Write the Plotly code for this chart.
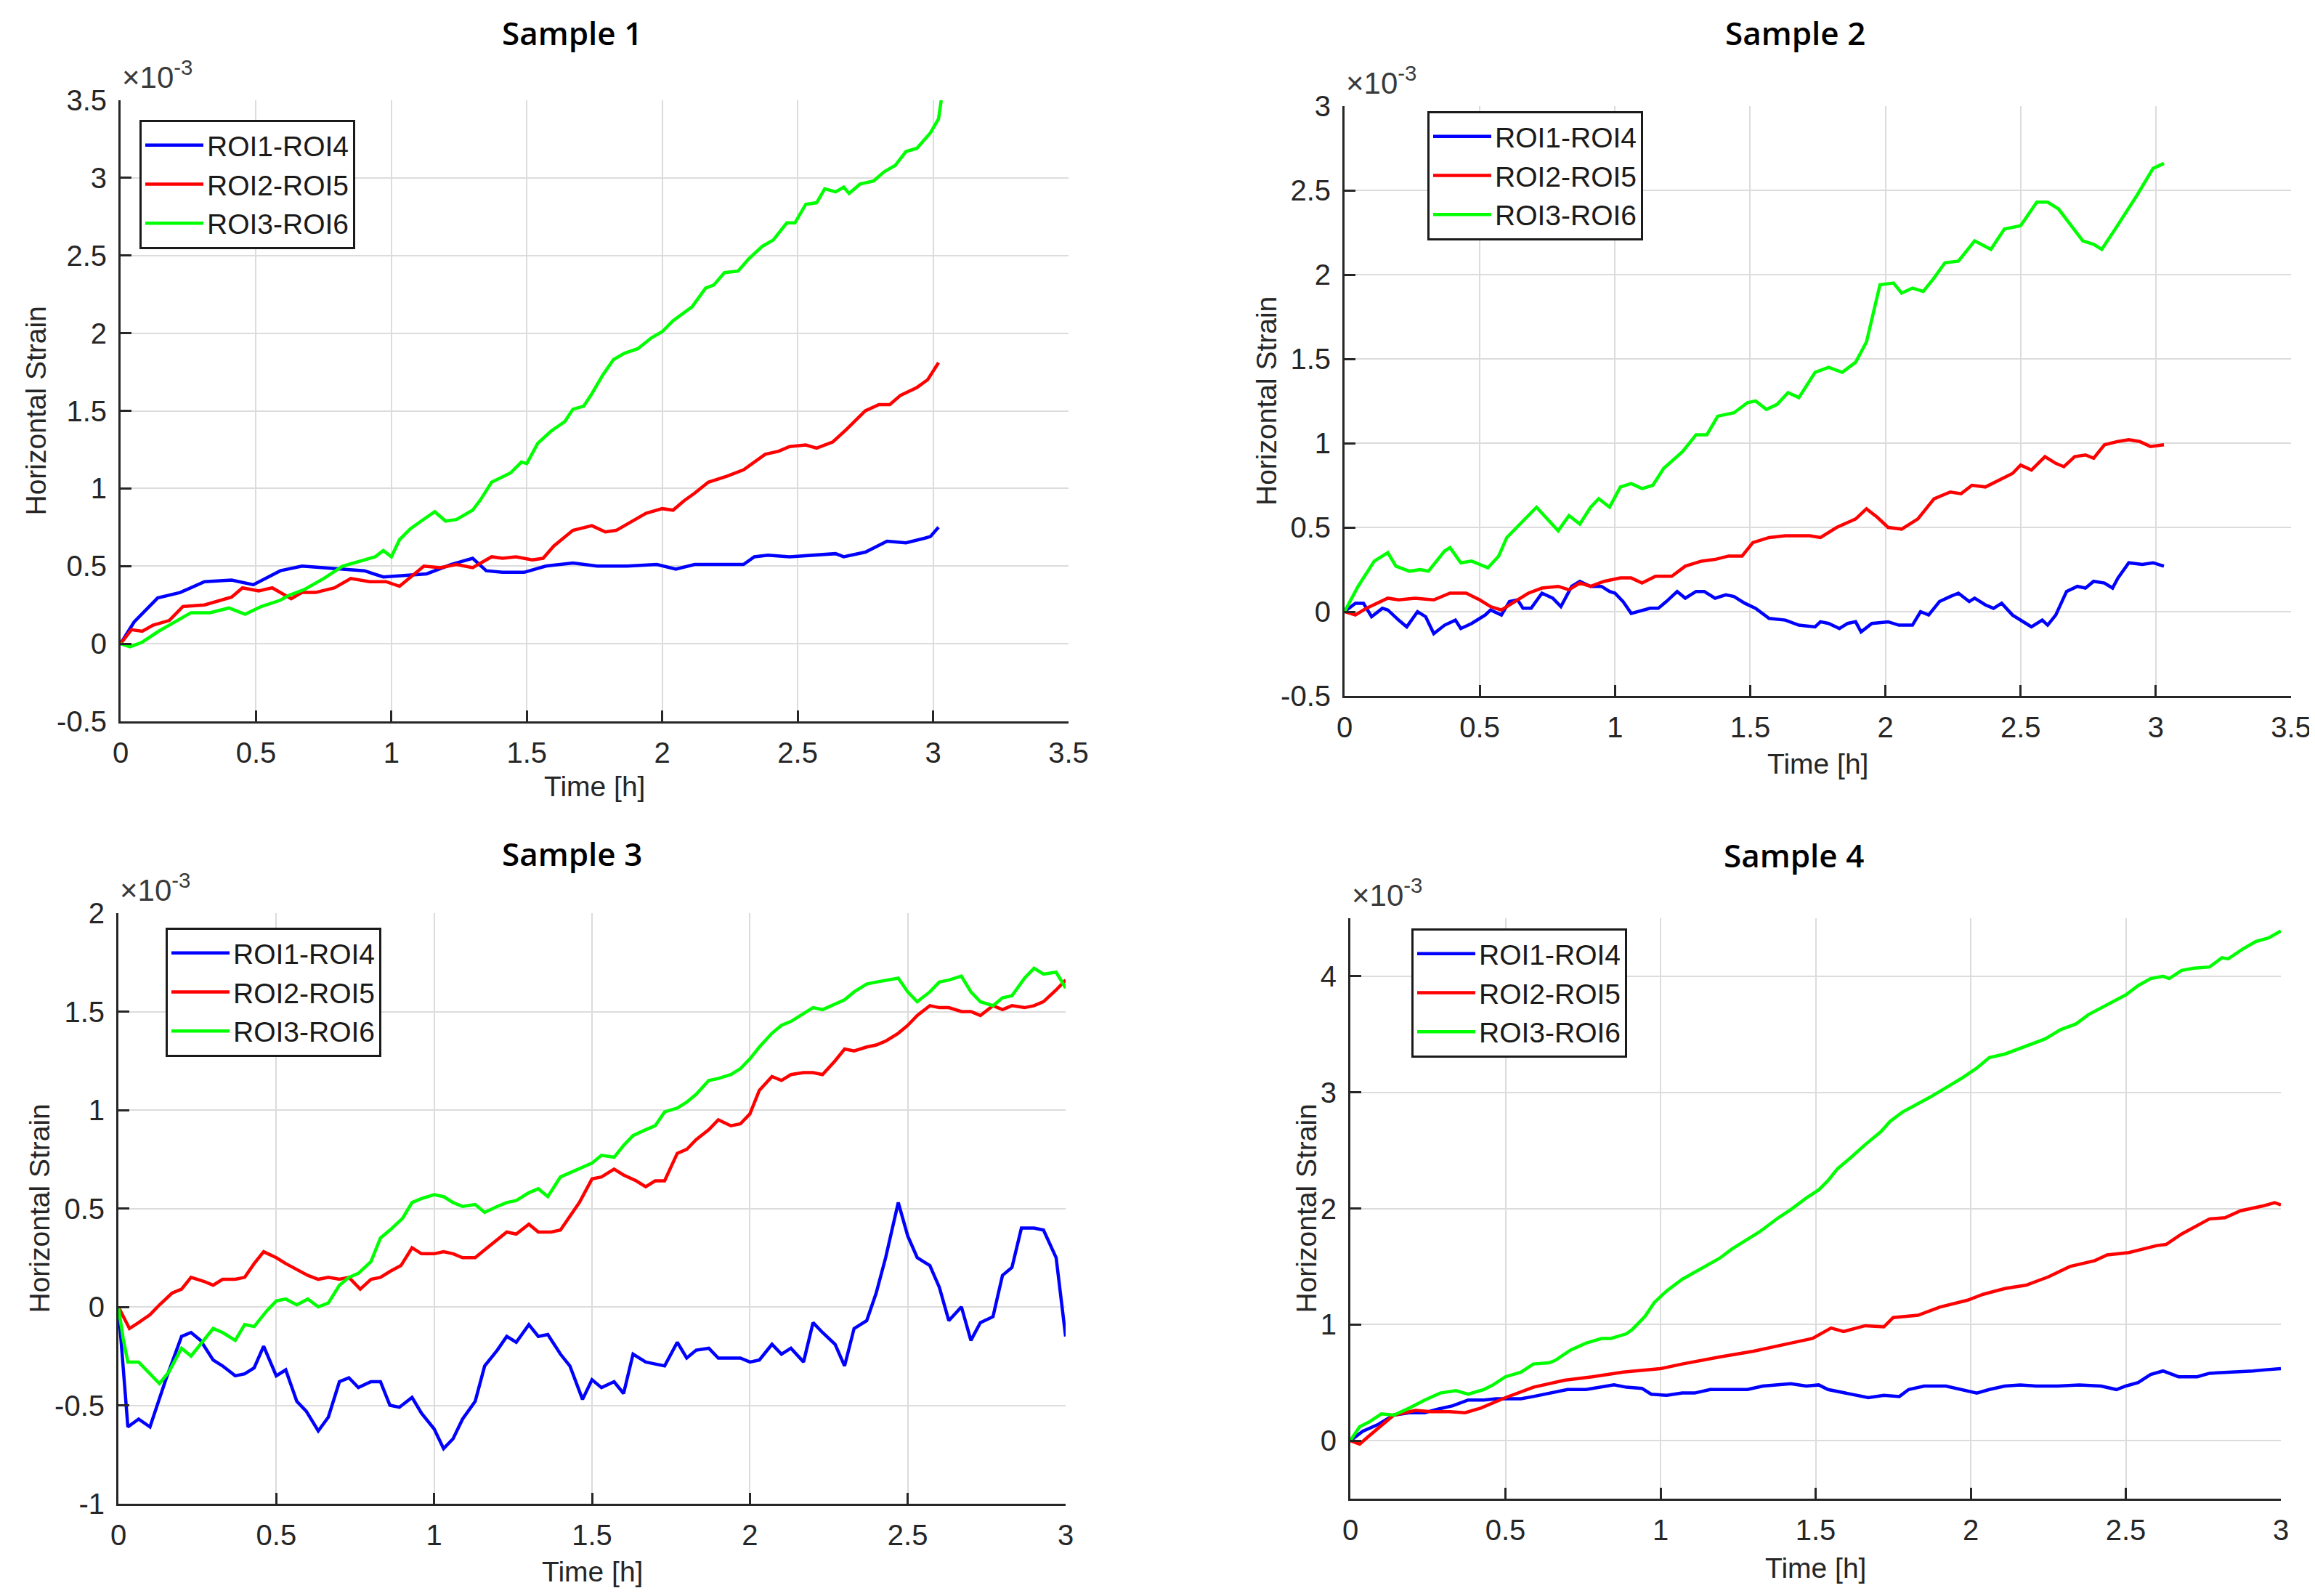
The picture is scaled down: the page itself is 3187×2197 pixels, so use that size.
import plotly.graph_objects as go

# ---------------- DATA (strain values in units of 1e-3) ----------------
series_names = ["ROI1-ROI4", "ROI2-ROI5", "ROI3-ROI6"]
sample_titles = ["Sample 1", "Sample 2", "Sample 3", "Sample 4"]

# Sample 1
s1_blue_t = [0, 0.05, 0.137, 0.22, 0.31, 0.41, 0.49, 0.59, 0.67, 0.75, 0.83, 0.90, 0.97, 1.05, 1.13, 1.22, 1.30, 1.35,
             1.41, 1.49, 1.57, 1.67, 1.76, 1.87, 1.98, 2.05, 2.12, 2.21, 2.30, 2.34, 2.39, 2.47, 2.56, 2.64, 2.67, 2.75,
             2.83, 2.90, 2.97, 2.99, 3.02]
s1_blue_v = [0, 0.14, 0.295, 0.33, 0.40, 0.41, 0.38, 0.47, 0.50, 0.49, 0.48, 0.47, 0.43, 0.44, 0.45, 0.51, 0.55, 0.47,
             0.46, 0.46, 0.50, 0.52, 0.50, 0.50, 0.51, 0.48, 0.51, 0.51, 0.51, 0.56, 0.57, 0.56, 0.57, 0.58, 0.56, 0.59,
             0.66, 0.65, 0.68, 0.69, 0.75]
s1_red_t = [0, 0.04, 0.08, 0.12, 0.18, 0.23, 0.31, 0.37, 0.41, 0.45, 0.51, 0.56, 0.63, 0.67, 0.72, 0.79, 0.85, 0.92,
            0.98, 1.03, 1.07, 1.12, 1.18, 1.24, 1.30, 1.37, 1.41, 1.46, 1.52, 1.56, 1.60, 1.67, 1.74, 1.79, 1.83, 1.89,
            1.94, 2.00, 2.04, 2.08, 2.12, 2.17, 2.24, 2.30, 2.34, 2.38, 2.43, 2.47, 2.53, 2.57, 2.63, 2.68, 2.75, 2.80,
            2.84, 2.88, 2.94, 2.98, 3.02]
s1_red_v = [0, 0.09, 0.08, 0.12, 0.15, 0.24, 0.25, 0.28, 0.30, 0.36, 0.34, 0.36, 0.29, 0.33, 0.33, 0.36, 0.42, 0.40,
            0.40, 0.37, 0.43, 0.50, 0.49, 0.51, 0.49, 0.56, 0.55, 0.56, 0.54, 0.55, 0.63, 0.73, 0.76, 0.72, 0.73, 0.79,
            0.84, 0.87, 0.86, 0.92, 0.97, 1.04, 1.08, 1.12, 1.17, 1.22, 1.24, 1.27, 1.28, 1.26, 1.30, 1.38, 1.50, 1.54,
            1.54, 1.60, 1.65, 1.70, 1.81]
s1_green_t = [0, 0.035, 0.08, 0.14, 0.19, 0.26, 0.33, 0.40, 0.46, 0.52, 0.59, 0.62, 0.68, 0.75, 0.82, 0.88, 0.94, 0.97,
              1.00, 1.03, 1.07, 1.11, 1.16, 1.20, 1.24, 1.30, 1.33, 1.37, 1.44, 1.48, 1.50, 1.54, 1.59, 1.64, 1.67, 1.71,
              1.74, 1.78, 1.82, 1.86, 1.91, 1.96, 2.00, 2.04, 2.11, 2.16, 2.19, 2.23, 2.28, 2.32, 2.37, 2.41, 2.46, 2.49,
              2.53, 2.57, 2.60, 2.64, 2.67, 2.69, 2.73, 2.78, 2.82, 2.86, 2.90, 2.94, 2.99, 3.02, 3.03]
s1_green_v = [0, -0.02, 0.01, 0.08, 0.13, 0.20, 0.20, 0.23, 0.19, 0.24, 0.28, 0.31, 0.35, 0.42, 0.50, 0.53, 0.56, 0.60,
              0.56, 0.67, 0.74, 0.79, 0.85, 0.79, 0.80, 0.86, 0.93, 1.04, 1.10, 1.17, 1.16, 1.29, 1.37, 1.43, 1.51, 1.53,
              1.61, 1.73, 1.83, 1.87, 1.90, 1.97, 2.01, 2.08, 2.17, 2.29, 2.31, 2.39, 2.40, 2.48, 2.56, 2.60, 2.71, 2.71,
              2.83, 2.84, 2.93, 2.91, 2.94, 2.90, 2.96, 2.98, 3.04, 3.08, 3.17, 3.19, 3.29, 3.38, 3.50]

# Sample 2
s2_blue_t = [0, 0.04, 0.07, 0.10, 0.14, 0.16, 0.20, 0.23, 0.27, 0.30, 0.33, 0.37, 0.41, 0.43, 0.47, 0.52, 0.54, 0.58,
             0.61, 0.64, 0.66, 0.69, 0.73, 0.77, 0.80, 0.84, 0.87, 0.91, 0.95, 0.98, 1.00, 1.03, 1.06, 1.10, 1.13, 1.16,
             1.19, 1.23, 1.26, 1.30, 1.33, 1.37, 1.41, 1.44, 1.48, 1.52, 1.57, 1.63, 1.68, 1.74, 1.76, 1.79, 1.83, 1.86,
             1.89, 1.91, 1.95, 2.01, 2.05, 2.10, 2.13, 2.16, 2.20, 2.24, 2.27, 2.31, 2.33, 2.37, 2.40, 2.43, 2.47, 2.54,
             2.58, 2.60, 2.63, 2.67, 2.71, 2.74, 2.77, 2.81, 2.84, 2.86, 2.90, 2.95, 2.99, 3.03]
s2_blue_v = [0, 0.05, 0.05, -0.03, 0.02, 0.01, -0.05, -0.09, 0.00, -0.03, -0.13, -0.08, -0.05, -0.10, -0.07, -0.02,
             0.01, -0.02, 0.06, 0.07, 0.02, 0.02, 0.11, 0.08, 0.03, 0.15, 0.18, 0.15, 0.15, 0.12, 0.11, 0.06, -0.01, 0.01,
             0.02, 0.02, 0.06, 0.12, 0.08, 0.12, 0.12, 0.08, 0.10, 0.09, 0.05, 0.02, -0.04, -0.05, -0.08, -0.09, -0.06,
             -0.07, -0.10, -0.07, -0.06, -0.12, -0.07, -0.06, -0.08, -0.08, 0.00, -0.02, 0.06, 0.09, 0.11, 0.06, 0.08,
             0.04, 0.02, 0.05, -0.02, -0.09, -0.05, -0.08, -0.02, 0.12, 0.15, 0.14, 0.18, 0.17, 0.14, 0.20, 0.29, 0.28,
             0.29, 0.27]
s2_red_t = [0, 0.04, 0.08, 0.16, 0.20, 0.26, 0.33, 0.39, 0.45, 0.50, 0.54, 0.58, 0.62, 0.68, 0.73, 0.79, 0.83, 0.87,
            0.91, 0.96, 1.02, 1.06, 1.10, 1.15, 1.21, 1.26, 1.32, 1.37, 1.42, 1.47, 1.51, 1.57, 1.63, 1.68, 1.72, 1.76,
            1.82, 1.89, 1.93, 1.97, 2.01, 2.06, 2.12, 2.18, 2.24, 2.28, 2.32, 2.37, 2.43, 2.47, 2.50, 2.54, 2.59, 2.63,
            2.66, 2.70, 2.74, 2.77, 2.81, 2.86, 2.90, 2.94, 2.98, 3.03]
s2_red_v = [0, -0.02, 0.02, 0.08, 0.07, 0.08, 0.07, 0.11, 0.11, 0.07, 0.03, 0.01, 0.05, 0.11, 0.14, 0.15, 0.13, 0.17,
            0.15, 0.18, 0.20, 0.20, 0.17, 0.21, 0.21, 0.27, 0.30, 0.31, 0.33, 0.33, 0.41, 0.44, 0.45, 0.45, 0.45, 0.44,
            0.50, 0.55, 0.61, 0.56, 0.50, 0.49, 0.55, 0.67, 0.71, 0.70, 0.75, 0.74, 0.79, 0.82, 0.87, 0.84, 0.92, 0.88,
            0.86, 0.92, 0.93, 0.91, 0.99, 1.01, 1.02, 1.01, 0.98, 0.99]
s2_green_t = [0, 0.05, 0.11, 0.16, 0.19, 0.24, 0.28, 0.31, 0.37, 0.39, 0.43, 0.47, 0.53, 0.57, 0.60, 0.65, 0.71, 0.75,
              0.79, 0.83, 0.87, 0.91, 0.94, 0.98, 1.02, 1.06, 1.10, 1.14, 1.18, 1.25, 1.30, 1.34, 1.38, 1.44, 1.49, 1.52,
              1.56, 1.60, 1.64, 1.68, 1.74, 1.79, 1.84, 1.89, 1.93, 1.98, 2.03, 2.06, 2.10, 2.14, 2.18, 2.22, 2.27, 2.33,
              2.39, 2.44, 2.50, 2.56, 2.60, 2.64, 2.73, 2.77, 2.80, 2.85, 2.93, 2.99, 3.03]
s2_green_v = [0, 0.15, 0.30, 0.35, 0.27, 0.24, 0.25, 0.24, 0.36, 0.38, 0.29, 0.30, 0.26, 0.33, 0.44, 0.52, 0.62, 0.55,
              0.48, 0.57, 0.52, 0.62, 0.67, 0.62, 0.74, 0.76, 0.73, 0.75, 0.85, 0.95, 1.05, 1.05, 1.16, 1.18, 1.24, 1.25,
              1.20, 1.23, 1.30, 1.27, 1.42, 1.45, 1.42, 1.48, 1.60, 1.94, 1.95, 1.89, 1.92, 1.90, 1.98, 2.07, 2.08, 2.20,
              2.15, 2.27, 2.29, 2.43, 2.43, 2.39, 2.20, 2.18, 2.15, 2.27, 2.47, 2.63, 2.66]

# Sample 3
s3_blue_t = [0, 0.015, 0.03, 0.064, 0.10, 0.15, 0.20, 0.23, 0.26, 0.30, 0.33, 0.37, 0.40, 0.43, 0.46, 0.50, 0.53, 0.565,
             0.595, 0.633, 0.665, 0.70, 0.73, 0.76, 0.80, 0.83, 0.86, 0.89, 0.93, 0.96, 1.00, 1.03, 1.06, 1.09, 1.13,
             1.16, 1.20, 1.23, 1.26, 1.30, 1.33, 1.36, 1.40, 1.43, 1.47, 1.50, 1.53, 1.57, 1.60, 1.63, 1.67, 1.70, 1.73,
             1.77, 1.80, 1.83, 1.87, 1.90, 1.94, 1.97, 2.00, 2.03, 2.07, 2.10, 2.13, 2.17, 2.20, 2.23, 2.27, 2.30, 2.33,
             2.37, 2.40, 2.43, 2.47, 2.50, 2.53, 2.57, 2.60, 2.63, 2.67, 2.70, 2.73, 2.77, 2.80, 2.83, 2.86, 2.90, 2.93,
             2.97, 3.00]
s3_blue_v = [0, -0.31, -0.61, -0.57, -0.61, -0.37, -0.15, -0.13, -0.17, -0.27, -0.30, -0.35, -0.34, -0.31, -0.20, -0.35,
             -0.32, -0.48, -0.53, -0.63, -0.56, -0.38, -0.36, -0.41, -0.38, -0.38, -0.50, -0.51, -0.46, -0.54, -0.62,
             -0.72, -0.67, -0.57, -0.48, -0.30, -0.22, -0.15, -0.18, -0.09, -0.15, -0.14, -0.24, -0.30, -0.47, -0.37,
             -0.41, -0.38, -0.44, -0.24, -0.28, -0.29, -0.30, -0.18, -0.26, -0.22, -0.21, -0.26, -0.26, -0.26, -0.28,
             -0.27, -0.19, -0.24, -0.21, -0.28, -0.08, -0.13, -0.19, -0.30, -0.11, -0.07, 0.07, 0.25, 0.53, 0.36, 0.25,
             0.21, 0.10, -0.07, 0.00, -0.17, -0.08, -0.05, 0.16, 0.20, 0.40, 0.40, 0.39, 0.25, -0.15]
s3_red_t = [0, 0.035, 0.064, 0.10, 0.13, 0.17, 0.20, 0.23, 0.27, 0.30, 0.33, 0.37, 0.40, 0.43, 0.46, 0.50, 0.53, 0.565,
            0.60, 0.633, 0.665, 0.70, 0.73, 0.766, 0.80, 0.83, 0.86, 0.895, 0.93, 0.96, 1.00, 1.03, 1.06, 1.09, 1.13,
            1.16, 1.20, 1.23, 1.26, 1.30, 1.33, 1.37, 1.40, 1.43, 1.46, 1.50, 1.53, 1.57, 1.60, 1.64, 1.67, 1.70, 1.73,
            1.77, 1.80, 1.83, 1.87, 1.90, 1.94, 1.97, 2.00, 2.03, 2.07, 2.10, 2.13, 2.17, 2.20, 2.23, 2.27, 2.30, 2.33,
            2.37, 2.40, 2.43, 2.47, 2.50, 2.53, 2.57, 2.60, 2.63, 2.67, 2.70, 2.73, 2.77, 2.80, 2.83, 2.87, 2.90, 2.93,
            2.97, 3.00]
s3_red_v = [0, -0.11, -0.08, -0.04, 0.01, 0.07, 0.09, 0.15, 0.13, 0.11, 0.14, 0.14, 0.15, 0.22, 0.28, 0.25, 0.22, 0.19,
            0.16, 0.14, 0.15, 0.14, 0.15, 0.09, 0.14, 0.15, 0.18, 0.21, 0.30, 0.27, 0.27, 0.28, 0.27, 0.25, 0.25, 0.29,
            0.34, 0.38, 0.37, 0.42, 0.38, 0.38, 0.39, 0.46, 0.53, 0.65, 0.66, 0.70, 0.67, 0.64, 0.61, 0.64, 0.64, 0.78,
            0.80, 0.85, 0.90, 0.95, 0.92, 0.93, 0.98, 1.10, 1.17, 1.15, 1.18, 1.19, 1.19, 1.18, 1.25, 1.31, 1.30, 1.32,
            1.33, 1.35, 1.39, 1.43, 1.48, 1.53, 1.52, 1.52, 1.50, 1.50, 1.48, 1.53, 1.51, 1.53, 1.52, 1.53, 1.55, 1.61,
            1.66]
s3_green_t = [0, 0.015, 0.03, 0.064, 0.10, 0.13, 0.16, 0.20, 0.23, 0.27, 0.30, 0.33, 0.37, 0.40, 0.43, 0.47, 0.50, 0.53,
              0.565, 0.60, 0.633, 0.665, 0.70, 0.73, 0.76, 0.80, 0.83, 0.86, 0.90, 0.93, 0.96, 1.00, 1.03, 1.06, 1.09,
              1.13, 1.16, 1.20, 1.23, 1.26, 1.30, 1.33, 1.36, 1.40, 1.43, 1.46, 1.50, 1.53, 1.57, 1.60, 1.63, 1.67, 1.70,
              1.73, 1.77, 1.80, 1.83, 1.87, 1.90, 1.94, 1.97, 2.00, 2.03, 2.07, 2.10, 2.13, 2.17, 2.20, 2.23, 2.27, 2.30,
              2.33, 2.37, 2.40, 2.43, 2.47, 2.50, 2.53, 2.57, 2.60, 2.63, 2.67, 2.70, 2.73, 2.77, 2.80, 2.83, 2.87, 2.90,
              2.93, 2.97, 3.00]
s3_green_v = [0, -0.16, -0.28, -0.28, -0.34, -0.39, -0.33, -0.21, -0.25, -0.17, -0.11, -0.13, -0.17, -0.09, -0.10,
              -0.02, 0.03, 0.04, 0.01, 0.04, 0.00, 0.02, 0.11, 0.15, 0.17, 0.23, 0.35, 0.39, 0.45, 0.53, 0.55, 0.57, 0.56,
              0.53, 0.51, 0.52, 0.48, 0.51, 0.53, 0.54, 0.58, 0.60, 0.56, 0.66, 0.68, 0.70, 0.73, 0.77, 0.76, 0.82, 0.87,
              0.90, 0.92, 0.99, 1.01, 1.04, 1.08, 1.15, 1.16, 1.18, 1.21, 1.26, 1.32, 1.39, 1.43, 1.45, 1.49, 1.52, 1.51,
              1.54, 1.56, 1.60, 1.64, 1.65, 1.66, 1.67, 1.60, 1.55, 1.60, 1.65, 1.66, 1.68, 1.60, 1.55, 1.53, 1.57, 1.58,
              1.67, 1.72, 1.69, 1.70, 1.62]

# Sample 4
s4_blue_t = [0, 0.04, 0.09, 0.14, 0.19, 0.24, 0.28, 0.33, 0.38, 0.43, 0.47, 0.55, 0.59, 0.64, 0.70, 0.76, 0.82, 0.85,
             0.89, 0.94, 0.97, 1.02, 1.07, 1.11, 1.16, 1.21, 1.28, 1.33, 1.38, 1.42, 1.47, 1.51, 1.54, 1.61, 1.67, 1.72,
             1.77, 1.80, 1.85, 1.92, 1.97, 2.02, 2.06, 2.11, 2.16, 2.21, 2.28, 2.35, 2.42, 2.47, 2.50, 2.54, 2.58, 2.62,
             2.67, 2.73, 2.77, 2.85, 2.91, 2.95, 3.00]
s4_blue_v = [0, 0.08, 0.14, 0.22, 0.24, 0.24, 0.27, 0.30, 0.35, 0.35, 0.36, 0.36, 0.38, 0.41, 0.44, 0.44, 0.47, 0.48,
             0.46, 0.45, 0.40, 0.39, 0.41, 0.41, 0.44, 0.44, 0.44, 0.47, 0.48, 0.49, 0.47, 0.48, 0.44, 0.40, 0.37, 0.39,
             0.38, 0.44, 0.47, 0.47, 0.44, 0.41, 0.44, 0.47, 0.48, 0.47, 0.47, 0.48, 0.47, 0.44, 0.47, 0.50, 0.57, 0.60,
             0.55, 0.55, 0.58, 0.59, 0.60, 0.61, 0.62]
s4_red_t = [0, 0.03, 0.06, 0.09, 0.14, 0.21, 0.26, 0.32, 0.37, 0.42, 0.50, 0.59, 0.69, 0.78, 0.88, 1.00, 1.07, 1.19,
            1.30, 1.42, 1.49, 1.55, 1.59, 1.66, 1.72, 1.75, 1.83, 1.90, 1.99, 2.04, 2.11, 2.18, 2.25, 2.32, 2.40, 2.44,
            2.51, 2.60, 2.63, 2.68, 2.77, 2.82, 2.87, 2.94, 2.98, 3.00]
s4_red_v = [0, -0.03, 0.04, 0.11, 0.22, 0.26, 0.25, 0.25, 0.24, 0.28, 0.37, 0.46, 0.52, 0.55, 0.59, 0.62, 0.66, 0.72,
            0.77, 0.84, 0.88, 0.97, 0.94, 0.99, 0.98, 1.06, 1.08, 1.15, 1.21, 1.26, 1.31, 1.34, 1.41, 1.50, 1.55, 1.60,
            1.62, 1.68, 1.69, 1.78, 1.91, 1.92, 1.98, 2.02, 2.05, 2.03]
s4_green_t = [0, 0.03, 0.06, 0.10, 0.14, 0.19, 0.24, 0.29, 0.34, 0.38, 0.43, 0.46, 0.50, 0.55, 0.59, 0.64, 0.66, 0.71,
              0.76, 0.81, 0.84, 0.89, 0.91, 0.95, 0.98, 1.02, 1.07, 1.13, 1.19, 1.23, 1.28, 1.32, 1.38, 1.42, 1.47, 1.51,
              1.54, 1.57, 1.61, 1.66, 1.71, 1.74, 1.78, 1.83, 1.87, 1.92, 1.97, 2.02, 2.06, 2.11, 2.16, 2.21, 2.24, 2.29,
              2.34, 2.38, 2.43, 2.47, 2.50, 2.54, 2.58, 2.62, 2.64, 2.68, 2.72, 2.77, 2.81, 2.83, 2.88, 2.92, 2.96, 3.00]
s4_green_v = [0, 0.12, 0.16, 0.23, 0.22, 0.28, 0.35, 0.41, 0.43, 0.40, 0.44, 0.48, 0.55, 0.59, 0.66, 0.67, 0.69, 0.78,
              0.84, 0.88, 0.88, 0.92, 0.96, 1.07, 1.19, 1.29, 1.39, 1.48, 1.57, 1.65, 1.73, 1.80, 1.92, 1.99, 2.09, 2.16,
              2.24, 2.34, 2.43, 2.55, 2.66, 2.75, 2.83, 2.90, 2.96, 3.04, 3.12, 3.21, 3.30, 3.33, 3.38, 3.43, 3.46, 3.54,
              3.59, 3.67, 3.74, 3.80, 3.84, 3.92, 3.98, 4.00, 3.98, 4.05, 4.07, 4.08, 4.16, 4.15, 4.24, 4.30, 4.33, 4.39]

# axis ranges and tick labels
x_ranges = [[0, 3.5], [0, 3.5], [0, 3], [0, 3]]
y_ranges = [[-0.5, 3.5], [-0.5, 3], [-1, 2], [-0.5, 4.5]]
x_ticks = [[0, 0.5, 1, 1.5, 2, 2.5, 3, 3.5], [0, 0.5, 1, 1.5, 2, 2.5, 3, 3.5],
           [0, 0.5, 1, 1.5, 2, 2.5, 3], [0, 0.5, 1, 1.5, 2, 2.5, 3]]
x_ticktext = [["0", "0.5", "1", "1.5", "2", "2.5", "3", "3.5"], ["0", "0.5", "1", "1.5", "2", "2.5", "3", "3.5"],
              ["0", "0.5", "1", "1.5", "2", "2.5", "3"], ["0", "0.5", "1", "1.5", "2", "2.5", "3"]]
y_ticks = [[-0.5, 0, 0.5, 1, 1.5, 2, 2.5, 3, 3.5], [-0.5, 0, 0.5, 1, 1.5, 2, 2.5, 3],
           [-1, -0.5, 0, 0.5, 1, 1.5, 2], [0, 1, 2, 3, 4]]
y_ticktext = [["-0.5", "0", "0.5", "1", "1.5", "2", "2.5", "3", "3.5"], ["-0.5", "0", "0.5", "1", "1.5", "2", "2.5", "3"],
              ["-1", "-0.5", "0", "0.5", "1", "1.5", "2"], ["0", "1", "2", "3", "4"]]

# ---------------- LAYOUT (pixel boxes) ----------------
W, H = 3187, 2197
boxes = [(158, 130, 1463, 985), (1843, 138, 3146, 950), (155, 1249, 1459, 2062), (1851, 1256, 3132, 2055)]
legend_pos = [(184, 157), (1957, 145), (220, 1269), (1935, 1270)]
title_xy = [(779, 37), (2463, 37), (779, 1167), (2461, 1169)]
ylabel_x = [41, 1735, 46, 1790]
xlabel_y = [1074, 1043, 2155, 2150]

colors = ["#0000FF", "#FF0000", "#00FF00"]
series = [
    [(s1_blue_t, s1_blue_v), (s1_red_t, s1_red_v), (s1_green_t, s1_green_v)],
    [(s2_blue_t, s2_blue_v), (s2_red_t, s2_red_v), (s2_green_t, s2_green_v)],
    [(s3_blue_t, s3_blue_v), (s3_red_t, s3_red_v), (s3_green_t, s3_green_v)],
    [(s4_blue_t, s4_blue_v), (s4_red_t, s4_red_v), (s4_green_t, s4_green_v)],
]

FONT = "Liberation Sans, Arial, Helvetica, sans-serif"
TXT = "#262626"
fig = go.Figure()
layout = dict(width=W, height=H, margin=dict(l=0, r=0, t=0, b=0), template="none",
              paper_bgcolor="white", plot_bgcolor="white", showlegend=True,
              font=dict(family=FONT, size=40, color=TXT))
annotations = []

for i in range(4):
    x0, y0, x1, y1 = boxes[i]
    xa = "xaxis" if i == 0 else f"xaxis{i+1}"
    ya = "yaxis" if i == 0 else f"yaxis{i+1}"
    xr = "x" if i == 0 else f"x{i+1}"
    yr = "y" if i == 0 else f"y{i+1}"
    lg = "legend" if i == 0 else f"legend{i+1}"
    common = dict(showgrid=True, gridcolor="#dcdcdc", gridwidth=2, zeroline=False,
                  showline=True, linecolor=TXT, linewidth=3, mirror=False,
                  ticks="inside", ticklen=15, tickwidth=3, tickcolor=TXT,
                  tickfont=dict(family=FONT, size=40, color=TXT), automargin=False)
    layout[xa] = dict(domain=[x0 / W, x1 / W], range=x_ranges[i], anchor=yr,
                      tickvals=x_ticks[i], ticktext=x_ticktext[i], ticklabelstandoff=6, **common)
    layout[ya] = dict(domain=[1 - y1 / H, 1 - y0 / H], range=y_ranges[i], anchor=xr,
                      tickvals=y_ticks[i], ticktext=y_ticktext[i], ticklabelstandoff=8, **common)
    lx, ly = legend_pos[i]
    layout[lg] = dict(x=lx / W, y=1 - ly / H, xanchor="left", yanchor="top",
                      bgcolor="white", bordercolor="#1a1a1a", borderwidth=3,
                      font=dict(family=FONT, size=39, color="#1a1a1a"),
                      itemwidth=80, tracegroupgap=0)
    for k in range(3):
        t, v = series[i][k]
        fig.add_trace(go.Scatter(x=t, y=v, mode="lines", name=series_names[k],
                                 line=dict(color=colors[k], width=4.5),
                                 xaxis=xr, yaxis=yr, legend=lg))
    # title
    tx, ty = title_xy[i]
    annotations.append(dict(text=sample_titles[i], x=tx / W, y=1 - ty / H,
                            xref="paper", yref="paper", showarrow=False, xanchor="center", yanchor="middle",
                            font=dict(family="Open Sans, sans-serif", size=44, color="black", weight=600)))
    # exponent label
    annotations.append(dict(text="×10<sup>-3</sup>", x=x0 / W, y=1 - y0 / H, xref="paper", yref="paper",
                            showarrow=False, xanchor="left", yanchor="bottom", yshift=6,
                            font=dict(family=FONT, size=42, color="#3a3a3a")))
    # y label
    annotations.append(dict(text="Horizontal Strain", x=ylabel_x[i] / W, y=1 - (y0 + y1) / 2 / H,
                            xref="paper", yref="paper", showarrow=False, textangle=-90,
                            xanchor="center", yanchor="middle",
                            font=dict(family=FONT, size=39, color=TXT)))
    # x label
    annotations.append(dict(text="Time [h]", x=(x0 + x1) / 2 / W, y=1 - xlabel_y[i] / H,
                            xref="paper", yref="paper", showarrow=False,
                            xanchor="center", yanchor="middle",
                            font=dict(family=FONT, size=39, color=TXT)))

layout["annotations"] = annotations
fig.update_layout(**layout)
fig.write_html("out.html")
